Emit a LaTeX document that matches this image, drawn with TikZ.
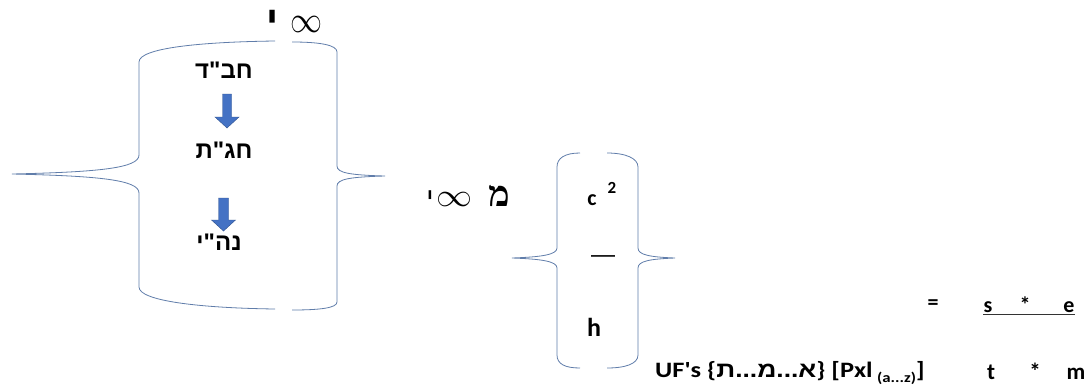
\documentclass[tikz,border=0pt]{standalone}
\usepackage{fontspec}
\usepackage{graphicx}
\setmainfont{Carlito}[Ligatures=TeXOff]
\newfontfamily\heb[Script=Hebrew,Ligatures=TeXOff]{Liberation Sans}
\newfontfamily\hebserif[Script=Hebrew,Ligatures=TeXOff]{Liberation Serif}
\TeXXeTstate=1
\definecolor{brkc}{RGB}{96,125,170}
\definecolor{arrfill}{RGB}{68,114,196}
\definecolor{arrdraw}{RGB}{47,82,143}
\begin{document}
\begin{tikzpicture}[x=1pt,y=-1pt,
  brk/.style={draw=brkc, line width=0.8pt},
  hebtxt/.style={font=\heb\bfseries\fontsize{24}{28}\selectfont, anchor=base, inner sep=0pt},
  lat/.style={font=\bfseries\fontsize{22}{26}\selectfont, anchor=base, inner sep=0pt},
  blockarrow/.style={fill=arrfill, draw=arrdraw, line width=0.4pt}]
\useasboundingbox (0,0) rectangle (1089,388);
\fill[white] (0,0) rectangle (1089,388);
% big bracket
\draw[brk] (275,41) .. controls (200,42) and (139,48) .. (139,62) -- (139,155)
  .. controls (139,168) and (100,172) .. (12,174)
  .. controls (100,176) and (139,180) .. (139,193) -- (139,287)
  .. controls (139,301) and (200,308) .. (275,309);
\draw[brk] (292,42) .. controls (320,42) and (337,45) .. (337,52) -- (337,166)
  .. controls (337,173) and (350,175) .. (385,176)
  .. controls (350,177) and (337,179) .. (337,186) -- (337,302)
  .. controls (337,308) and (320,310) .. (292,310);
% small bracket
\draw[brk] (580,153) .. controls (565,153) and (557,158) .. (557,167) -- (557,248)
  .. controls (557,255) and (540,257) .. (512,258)
  .. controls (540,259) and (557,261) .. (557,268) -- (557,355)
  .. controls (557,364) and (565,368) .. (580,368);
\draw[brk] (607,153) .. controls (625,153) and (638,158) .. (638,167) -- (638,248)
  .. controls (638,255) and (650,257) .. (675,258)
  .. controls (650,259) and (638,261) .. (638,268) -- (638,355)
  .. controls (638,364) and (625,368) .. (607,368);
% top label
\node[font=\heb\bfseries\fontsize{40}{44}\selectfont, anchor=base, inner sep=0pt] (yodtop) at (273,34) {\beginR י\endR};
\node[inner sep=0pt] (inftop) at (306,24.5) {\resizebox{32pt}{16pt}{$\infty$}};
% inside big bracket
\node[hebtxt] (habad) at (224,78) {\beginR חב"ד\endR};
\node[hebtxt] (hagat) at (224,158) {\beginR חג"ת\endR};
\node[hebtxt] (nehi) at (219,250) {\beginR נה"י\endR};
\path[blockarrow] (222.5,94) -- (231.5,94) -- (231.5,117) -- (239,117) -- (227,128) -- (215,117) -- (222.5,117) -- cycle;
\path[blockarrow] (218.5,198) -- (228.5,198) -- (228.5,220) -- (235.5,220) -- (223.5,231) -- (211.5,220) -- (218.5,220) -- cycle;
% middle label
\node[font=\heb\fontsize{28}{32}\selectfont, anchor=base, inner sep=0pt] (yodmid) at (430,207) {\beginR י\endR};
\node[inner sep=0pt] (infmid) at (454,199) {\resizebox{36pt}{14pt}{$\infty$}};
\node[font=\hebserif\bfseries\fontsize{36}{40}\selectfont, anchor=base, inner sep=0pt] (mem) at (499,206) {\beginR מ\endR};
% small bracket content
\node[lat, font=\bfseries\fontsize{22}{26}\selectfont] (c) at (592,205) {c};
\node[lat, font=\bfseries\fontsize{17}{20}\selectfont] (sq) at (612,193) {2};
\node[font=\heb\fontsize{24}{28}\selectfont, anchor=base, inner sep=0pt] (dash) at (603,262) {—};
\node[lat, font=\bfseries\fontsize{26}{30}\selectfont] (h) at (594,336) {h};
% right formula
\node[lat] (eq) at (933,309) {=};
\node[lat] (s) at (988,312) {s};
\node[lat] (st1) at (1025,312) {*};
\node[lat] (e) at (1069,312) {e};
\draw[line width=1.3pt, black!80] (983,314.5) -- (1075,314.5);
\node[lat, font=\bfseries\fontsize{23}{27}\selectfont] (t) at (991,379) {t};
\node[lat, font=\bfseries\fontsize{23}{27}\selectfont] (st2) at (1035,379) {*};
\node[lat, font=\bfseries\fontsize{23}{27}\selectfont] (m) at (1076,379) {m};
\node[anchor=base west, inner sep=0pt, font=\bfseries\fontsize{22}{26}\selectfont] (uf) at (655,377)
  {\scalebox{1.2}[1]{UF's \{{\heb\bfseries\beginR א...מ...ת\endR}\} [Pxl\,\raisebox{-0.25em}{\fontsize{14}{16}\selectfont (a...z)}]}};
\end{tikzpicture}
\end{document}
